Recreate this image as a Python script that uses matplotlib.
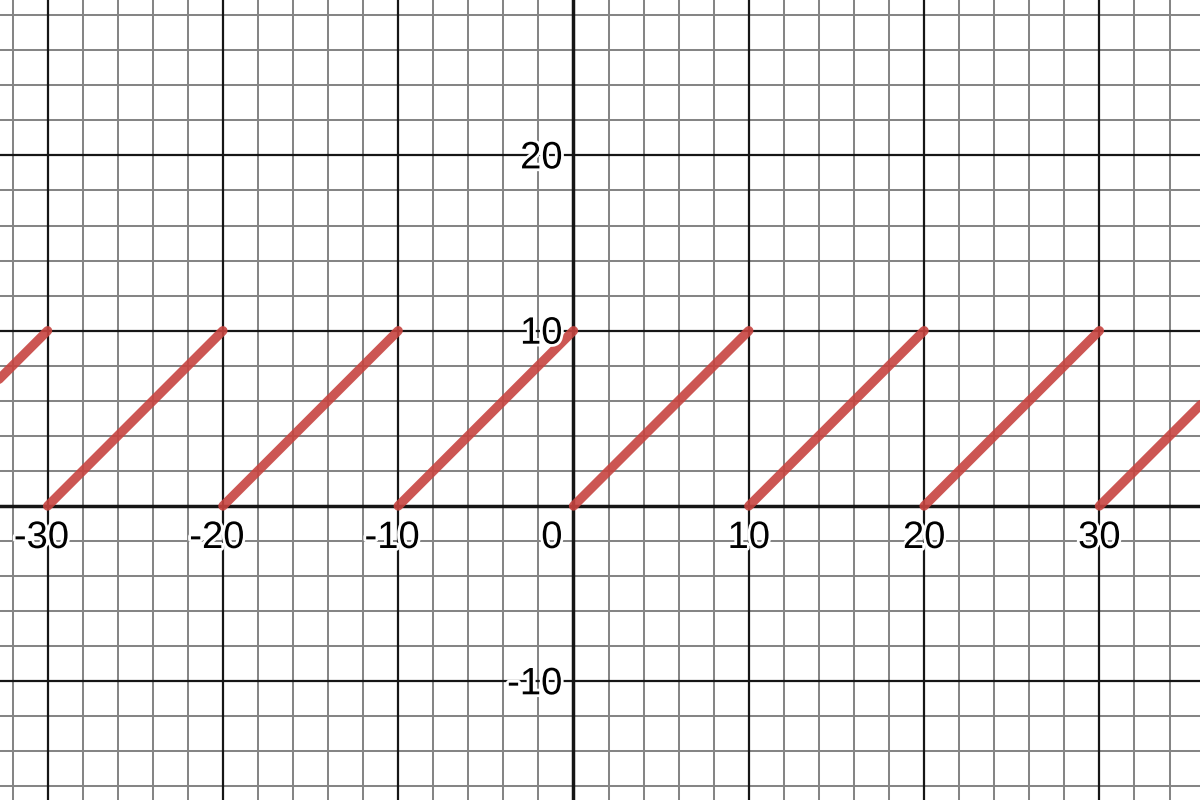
import matplotlib
matplotlib.use("Agg")
import matplotlib.pyplot as plt
import matplotlib.patheffects as pe
from matplotlib.transforms import offset_copy

# Data: sawtooth segments (one per period), each rising from y_low to y_high
seg_start = [-40, -30, -20, -10, 0, 10, 20, 30]
seg_end = [-30, -20, -10, 0, 10, 20, 30, 40]
y_low = [0, 0, 0, 0, 0, 0, 0, 0]
y_high = [10, 10, 10, 10, 10, 10, 10, 10]

x_tick_labels = [-30, -20, -10, 10, 20, 30]
y_tick_labels = [20, 10, -10]

PX = 17.53  # pixels per unit
fig = plt.figure(figsize=(12, 8), dpi=100)
ax = fig.add_axes([0, 0, 1, 1])
ax.set_xlim(-573.5 / PX, 626.5 / PX)
ax.set_ylim(-294 / PX, 506 / PX)
ax.set_axis_off()

minor_c = "#858585"
major_c = "#161616"
for v in range(-40, 42, 2):
    if v % 10 == 0:
        continue
    ax.axvline(v, color=minor_c, lw=1.45, zorder=1)
    ax.axhline(v, color=minor_c, lw=1.45, zorder=1)
for v in range(-40, 50, 10):
    if v == 0:
        continue
    ax.axvline(v, color=major_c, lw=1.6, zorder=2)
    ax.axhline(v, color=major_c, lw=1.6, zorder=2)
ax.axvline(0, color="#151515", lw=2.5, zorder=3)
ax.axhline(0, color="#151515", lw=2.5, zorder=3)

for x0, x1, a, b in zip(seg_start, seg_end, y_low, y_high):
    ax.plot([x0, x1], [a, b], color="#c74440", lw=6.7, alpha=0.9,
            solid_capstyle="round", zorder=5)

halo = [pe.withStroke(linewidth=4, foreground="white")]
fkw = dict(fontsize=27.5, family=["Liberation Sans", "DejaVu Sans"], color="black",
           zorder=6, path_effects=halo)

for v in x_tick_labels:
    s = str(v)
    dx = -6 if v < 0 else 0
    tr = offset_copy(ax.transData, fig=fig, x=dx, y=-42, units="dots")
    ax.text(v, 0, s, ha="center", va="baseline", transform=tr, **fkw)

tr0 = offset_copy(ax.transData, fig=fig, x=-11, y=-42, units="dots")
ax.text(0, 0, "0", ha="right", va="baseline", transform=tr0, **fkw)

for v in y_tick_labels:
    tr = offset_copy(ax.transData, fig=fig, x=-11, y=-13, units="dots")
    ax.text(0, v, str(v), ha="right", va="baseline", transform=tr, **fkw)

fig.savefig("out.png", dpi=100, facecolor="white")
